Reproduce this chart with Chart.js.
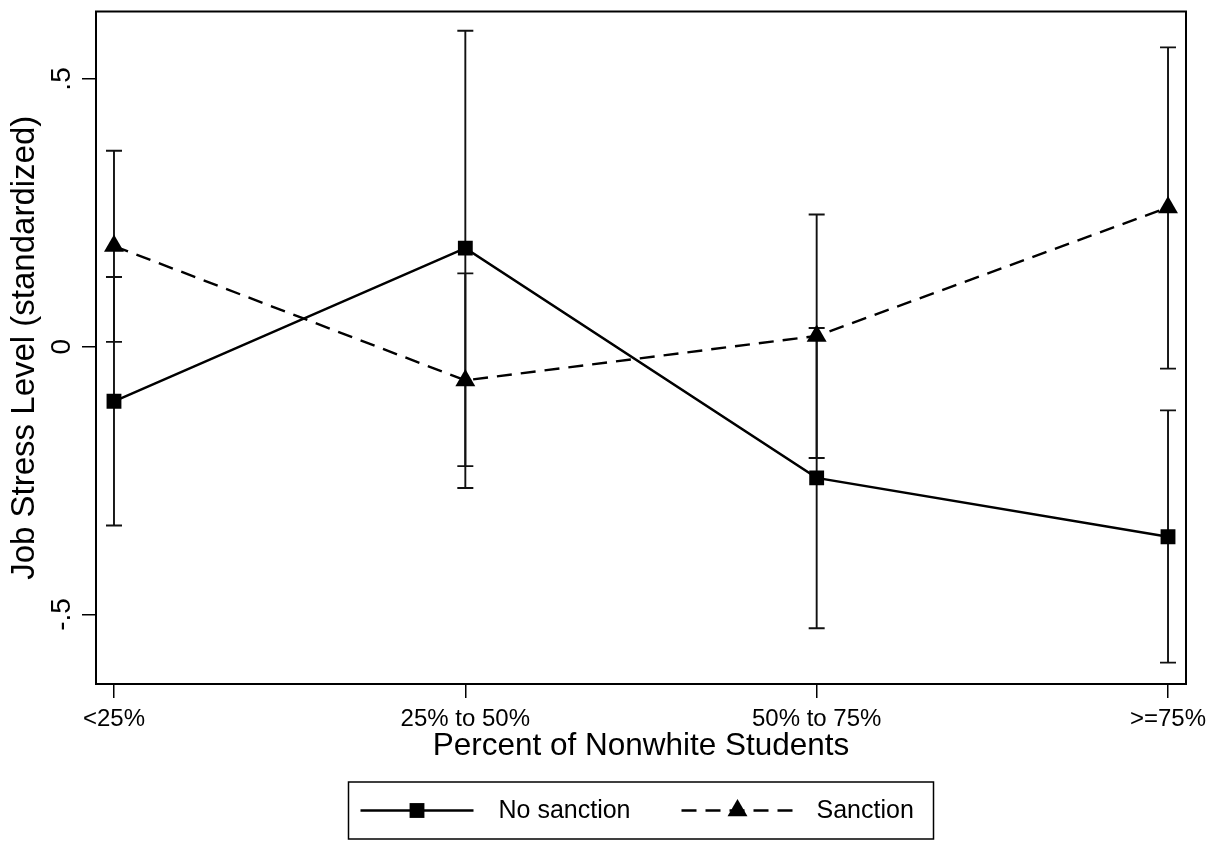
<!DOCTYPE html>
<html>
<head>
<meta charset="utf-8">
<script src="https://cdn.jsdelivr.net/npm/chart.js@4.4.0/dist/chart.umd.min.js"></script>
<style>
  html, body { margin: 0; padding: 0; background: #fff; }
  #wrap { width: 1218px; height: 841px; }
</style>
</head>
<body>
<div id="wrap"><canvas id="c" width="1218" height="841"></canvas></div>
<script>
// Categories on the x axis
const categories = ['<25%', '25% to 50%', '50% to 75%', '>=75%'];

// Predicted job stress (standardized) with confidence bounds
const noSanction     = [-0.102, 0.184, -0.245, -0.355];
const noSanctionLow  = [-0.334, -0.223, -0.526, -0.590];
const noSanctionHigh = [0.130, 0.590, 0.035, -0.119];

const sanction     = [0.188, -0.063, 0.020, 0.260];
const sanctionLow  = [0.009, -0.264, -0.208, -0.041];
const sanctionHigh = [0.366, 0.137, 0.247, 0.559];

const seriesNames = ['No sanction', 'Sanction'];

// Y axis ticks
const yTicks = [-0.5, 0, 0.5];
const yTickLabels = ['-.5', '0', '.5'];

const FONT = '"Liberation Sans", Arial, Helvetica, sans-serif';

function markerPath(ctx, style, r, cx, cy) {
  ctx.beginPath();
  if (style === 'rect') {
    const s = Math.SQRT1_2 * r;
    ctx.rect(cx - s, cy - s, 2 * s, 2 * s);
  } else {
    let a = 0;
    ctx.moveTo(cx + Math.sin(a) * r, cy - Math.cos(a) * r);
    a += 2 * Math.PI / 3;
    ctx.lineTo(cx + Math.sin(a) * r, cy - Math.cos(a) * r);
    a += 2 * Math.PI / 3;
    ctx.lineTo(cx + Math.sin(a) * r, cy - Math.cos(a) * r);
    ctx.closePath();
  }
}

// Plot-region frame and confidence interval whiskers
const framePlugin = {
  id: 'frameAndBars',
  beforeDatasetsDraw(chart) {
    const { ctx, chartArea: a, scales: { x, y } } = chart;
    ctx.save();
    ctx.strokeStyle = '#000';
    ctx.lineWidth = 2;
    ctx.strokeRect(a.left, a.top, a.right - a.left, a.bottom - a.top);

    ctx.strokeStyle = '#111';
    ctx.lineWidth = 1.9;
    const cap = 8;
    [[noSanctionLow, noSanctionHigh], [sanctionLow, sanctionHigh]].forEach(([lo, hi]) => {
      lo.forEach((l, i) => {
        const px = x.getPixelForValue(i);
        const p1 = y.getPixelForValue(l);
        const p2 = y.getPixelForValue(hi[i]);
        ctx.beginPath();
        ctx.moveTo(px, p1); ctx.lineTo(px, p2);
        ctx.moveTo(px - cap, p1); ctx.lineTo(px + cap, p1);
        ctx.moveTo(px - cap, p2); ctx.lineTo(px + cap, p2);
        ctx.stroke();
      });
    });
    ctx.restore();
  }
};

// Rotated y tick labels
const yLabelPlugin = {
  id: 'yLabels',
  afterDraw(chart) {
    const { ctx, scales: { y } } = chart;
    ctx.save();
    ctx.fillStyle = '#000';
    ctx.font = '28px ' + FONT;
    ctx.textAlign = 'center';
    ctx.textBaseline = 'middle';
    yTicks.forEach((v, i) => {
      const py = y.getPixelForValue(v);
      ctx.save();
      ctx.translate(62, py);
      ctx.rotate(-Math.PI / 2);
      ctx.fillText(yTickLabels[i], 0, 0);
      ctx.restore();
    });
    ctx.restore();
  }
};

// Boxed legend below the axis title
const legendPlugin = {
  id: 'boxLegend',
  afterDraw(chart) {
    const { ctx, chartArea: a } = chart;
    const w = 585, h = 57;
    const left = (a.left + a.right) / 2 - w / 2;
    const top = 782;
    const cy = top + h / 2;
    ctx.save();
    ctx.strokeStyle = '#000';
    ctx.fillStyle = '#000';
    ctx.lineWidth = 1.5;
    ctx.strokeRect(left, top, w, h);
    const slots = [{ x0: 12, x1: 125, tx: 150 }, { x0: 333, x1: 445, tx: 468 }];
    chart.data.datasets.forEach((ds, i) => {
      const s = slots[i];
      ctx.beginPath();
      ctx.setLineDash(ds.borderDash || []);
      ctx.lineWidth = ds.borderWidth;
      ctx.moveTo(left + s.x0, cy);
      ctx.lineTo(left + s.x1, cy);
      ctx.stroke();
      ctx.setLineDash([]);
      markerPath(ctx, ds.pointStyle, ds.pointRadius, left + (s.x0 + s.x1) / 2, cy);
      ctx.fill();
      ctx.font = '25px ' + FONT;
      ctx.textAlign = 'left';
      ctx.textBaseline = 'middle';
      ctx.fillText(ds.label, left + s.tx, cy + 1);
    });
    ctx.restore();
  }
};

const toPoints = arr => arr.map((v, i) => ({ x: i, y: v }));

new Chart(document.getElementById('c'), {
  type: 'line',
  data: {
    datasets: [
      {
        label: seriesNames[0],
        data: toPoints(noSanction),
        borderColor: '#000',
        backgroundColor: '#000',
        borderWidth: 2.4,
        pointStyle: 'rect',
        pointRadius: 10.5,
        pointHoverRadius: 10.5,
        pointBackgroundColor: '#000',
        pointBorderWidth: 0,
        tension: 0,
        fill: false
      },
      {
        label: seriesNames[1],
        data: toPoints(sanction),
        borderColor: '#000',
        backgroundColor: '#000',
        borderWidth: 2.4,
        borderDash: [15, 9],
        pointStyle: 'triangle',
        pointRadius: 11.5,
        pointHoverRadius: 11.5,
        pointBackgroundColor: '#000',
        pointBorderWidth: 0,
        tension: 0,
        fill: false
      }
    ]
  },
  options: {
    responsive: false,
    animation: false,
    devicePixelRatio: 1,
    layout: { padding: { top: 8, right: 32, bottom: 0, left: 0 } },
    plugins: {
      legend: { display: false },
      tooltip: { enabled: false }
    },
    scales: {
      x: {
        type: 'linear',
        min: -0.0512,
        max: 3.0512,
        afterBuildTicks: s => { s.ticks = categories.map((c, i) => ({ value: i })); },
        afterFit: s => { s.height = 157; },
        ticks: {
          callback: v => categories[v],
          color: '#000',
          font: { family: FONT, size: 24 },
          padding: 7,
          maxRotation: 0,
          autoSkip: false
        },
        grid: {
          drawOnChartArea: false,
          drawTicks: true,
          tickLength: 14,
          color: '#000',
          lineWidth: 1.5
        },
        border: { display: false },
        title: {
          display: true,
          text: 'Percent of Nonwhite Students',
          color: '#000',
          font: { family: FONT, size: 31.5 },
          padding: { top: 0, bottom: 76 }
        }
      },
      y: {
        type: 'linear',
        min: -0.630,
        max: 0.626,
        afterBuildTicks: s => { s.ticks = yTicks.map(v => ({ value: v })); },
        afterFit: s => { s.width = 96; },
        ticks: { display: false },
        grid: {
          drawOnChartArea: false,
          drawTicks: true,
          tickLength: 14,
          color: '#000',
          lineWidth: 1.5
        },
        border: { display: false },
        title: {
          display: true,
          text: 'Job Stress Level (standardized)',
          color: '#000',
          font: { family: FONT, size: 33 },
          padding: { top: 5, bottom: 0 }
        }
      }
    }
  },
  plugins: [framePlugin, yLabelPlugin, legendPlugin]
});
</script>
</body>
</html>
